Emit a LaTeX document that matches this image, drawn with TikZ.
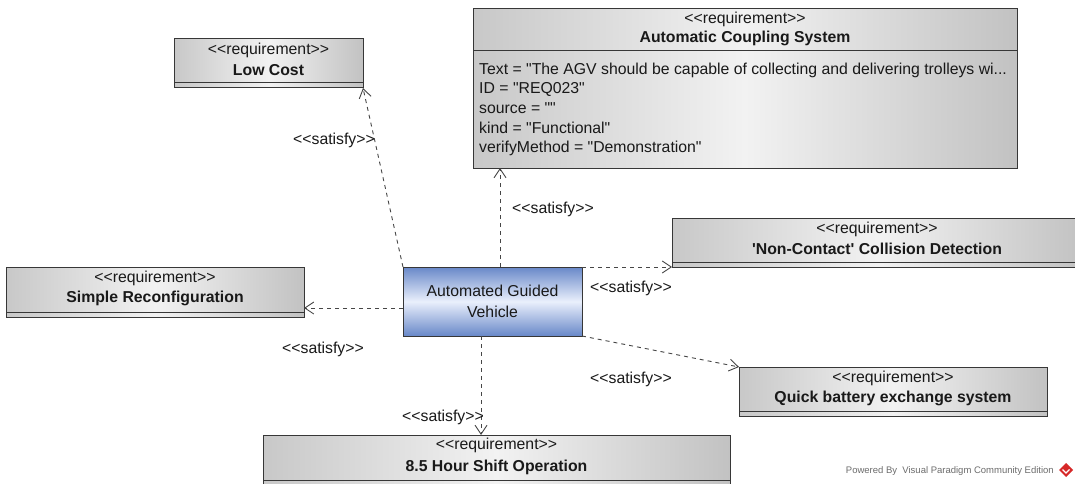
\documentclass[tikz,border=0pt]{standalone}
\usepackage{fontspec}
\newfontfamily\vp{Liberation Sans}
\usetikzlibrary{arrows.meta,calc}
\definecolor{reqL}{RGB}{200,200,200}
\definecolor{reqM}{RGB}{242,242,242}
\definecolor{reqR}{RGB}{194,194,194}
\definecolor{agvE}{RGB}{104,136,200}
\definecolor{agvM}{RGB}{234,240,252}
\definecolor{edgec}{RGB}{55,55,55}
\definecolor{conn}{RGB}{70,70,70}
\definecolor{txt}{RGB}{25,25,25}
\definecolor{vpred}{RGB}{214,40,40}
\begin{document}
\begin{tikzpicture}[x=1pt,y=-1pt,
  reqbox/.style={draw=edgec, line width=1pt, left color=reqL, right color=reqR, middle color=reqM, anchor=north west, inner sep=0pt, outer sep=0pt},
  agvbox/.style={draw=edgec, line width=1pt, top color=agvE, bottom color=agvE, middle color=agvM, anchor=north west, inner sep=0pt, outer sep=0pt},
  stereo/.style={font=\vp\fontsize{15.8}{18}\selectfont, text=txt, inner sep=0pt},
  ttl/.style={font=\vp\fontsize{15.8}{18}\selectfont\bfseries, text=txt, inner sep=0pt},
  attr/.style={font=\vp\fontsize{15.8}{18}\selectfont, text=txt, anchor=west, inner sep=0pt},
  sepline/.style={draw=edgec, line width=1pt},
  sat/.style={draw=conn, line width=0.9pt, dash pattern=on 4pt off 4pt, -{Straight Barb[length=9pt,width=12pt]}},
  satlbl/.style={font=\vp\fontsize{15.8}{18}\selectfont, text=txt, inner sep=0pt},
]
\useasboundingbox (0,0) rectangle (1075,484);
\clip (0,0) rectangle (1075,484);
\fill[white] (0,0) rectangle (1075,484);

% Low Cost
\node[reqbox, minimum width=189pt, minimum height=49pt] (lc) at (174,39) {};
\draw[sepline] ($(lc.south west)+(0,-5)$) -- ($(lc.south east)+(0,-5)$);
\node[stereo] (lcs) at ($(lc.north)+(0,11)$) {<<requirement>>};
\node[ttl] (lct) at ($(lc.north)+(0,31)$) {Low Cost};

% Automatic Coupling System
\node[reqbox, minimum width=544pt, minimum height=159pt] (acs) at (473,9) {};
\draw[sepline] ($(acs.north west)+(0,42)$) -- ($(acs.north east)+(0,42)$);
\node[stereo] (acss) at ($(acs.north)+(0,10)$) {<<requirement>>};
\node[ttl] (acst) at ($(acs.north)+(0,29)$) {Automatic Coupling System};
\node[attr] (a1) at ($(acs.north west)+(6,61)$) {Text = "The AGV should be capable of collecting and delivering trolleys wi...};
\node[attr] (a2) at ($(acs.north west)+(6,80)$) {ID = "REQ023"};
\node[attr] (a3) at ($(acs.north west)+(6,99)$) {source = ""};
\node[attr] (a4) at ($(acs.north west)+(6,119)$) {kind = "Functional"};
\node[attr] (a5) at ($(acs.north west)+(6,139)$) {verifyMethod = "Demonstration"};

% Non-Contact Collision Detection
\node[reqbox, minimum width=410pt, minimum height=49pt] (nc) at (672,218) {};
\draw[sepline] ($(nc.south west)+(0,-5)$) -- ($(nc.south east)+(0,-5)$);
\node[stereo] (ncs) at ($(nc.north)+(0,11)$) {<<requirement>>};
\node[ttl] (nct) at ($(nc.north)+(0,31)$) {'Non-Contact' Collision Detection};

% Simple Reconfiguration
\node[reqbox, minimum width=298pt, minimum height=50pt] (sr) at (6,267) {};
\draw[sepline] ($(sr.south west)+(0,-5)$) -- ($(sr.south east)+(0,-5)$);
\node[stereo] (srs) at ($(sr.north)+(0,11)$) {<<requirement>>};
\node[ttl] (srt) at ($(sr.north)+(0,31)$) {Simple Reconfiguration};

% Automated Guided Vehicle
\node[agvbox, minimum width=179pt, minimum height=69pt] (agv) at (403,267) {};
\node[stereo, align=center, font=\vp\fontsize{15.8}{21}\selectfont] (agvt) at (agv.center) {Automated Guided\\Vehicle};

% Quick battery exchange system
\node[reqbox, minimum width=308pt, minimum height=49pt] (qb) at (739,367) {};
\draw[sepline] ($(qb.south west)+(0,-5)$) -- ($(qb.south east)+(0,-5)$);
\node[stereo] (qbs) at ($(qb.north)+(0,11)$) {<<requirement>>};
\node[ttl] (qbt) at ($(qb.north)+(0,31)$) {Quick battery exchange system};

% 8.5 Hour Shift Operation
\node[reqbox, minimum width=467pt, minimum height=51pt] (hs) at (263,435) {};
\draw[sepline] ($(hs.north west)+(0,45)$) -- ($(hs.north east)+(0,45)$);
\node[stereo] (hss) at ($(hs.north)+(0,10)$) {<<requirement>>};
\node[ttl] (hst) at ($(hs.north)+(0,32)$) {8.5 Hour Shift Operation};

% connectors
\coordinate (c1) at ($(agv.north west)+(97,0)$);
\coordinate (c2) at ($(agv.west)+(0,6.5)$);
\coordinate (c3) at ($(agv.south west)+(78,0)$);
\draw[sat] (agv.north west) -- (lc.south east);
\draw[sat] (c1) -- (c1 |- acs.south);
\draw[sat] (agv.north east) -- (nc.south west);
\draw[sat] (c2) -- (c2 -| sr.east);
\draw[sat] (agv.south east) -- (qb.north west);
\draw[sat] (c3) -- (c3 |- hs.north);

% labels
\node[satlbl] (l1) at (334,140) {<<satisfy>>};
\node[satlbl] (l2) at (553,209) {<<satisfy>>};
\node[satlbl] (l3) at (631,288) {<<satisfy>>};
\node[satlbl] (l4) at (323,349) {<<satisfy>>};
\node[satlbl] (l5) at (631,379) {<<satisfy>>};
\node[satlbl] (l6) at (443,417) {<<satisfy>>};

% footer
\node[font=\vp\fontsize{9.5}{11}\selectfont, text=gray!85!black, inner sep=0pt, anchor=east] (pw) at (1054,471) {Powered By\ \ Visual Paradigm Community Edition};
\fill[vpred] (1066,463) -- (1073,470) -- (1066,477) -- (1059,470) -- cycle;
\draw[white, line width=1.3pt] (1062.5,469.5) -- (1066,473) -- (1069.5,469.5);
\end{tikzpicture}
\end{document}
